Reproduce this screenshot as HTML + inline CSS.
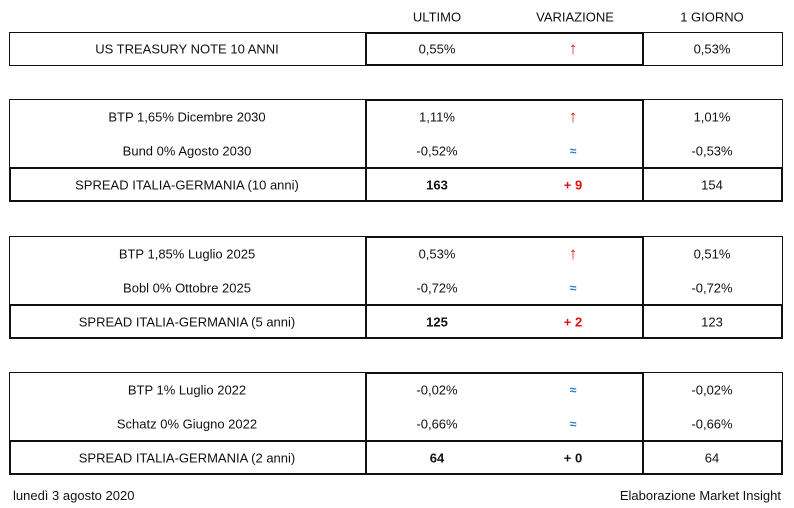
<!DOCTYPE html>
<html><head><meta charset="utf-8"><style>
body{margin:0;width:794px;height:508px;background:#fff;position:relative;font-family:"Liberation Sans",sans-serif;font-size:13px;color:#111;overflow:hidden}
.b{position:absolute;box-sizing:border-box;border:2px solid #111}
.t{position:absolute;transform:translate(-50%,-50%);white-space:nowrap}
.r{color:#e01010;font-weight:bold}
.a{color:#e01010;font-weight:bold;font-size:17px}
.bl{color:#2a7ac0;font-weight:bold;font-size:12px}
.bo{font-weight:bold}
</style></head><body>
<div class="t" style="left:437px;top:17px">ULTIMO</div>
<div class="t" style="left:575px;top:17px">VARIAZIONE</div>
<div class="t" style="left:712px;top:17px">1 GIORNO</div>

<div class="b" style="left:9px;top:32px;width:358px;height:34px;border-width:1px"></div>
<div class="b" style="left:365px;top:32px;width:279px;height:34px"></div>
<div class="b" style="left:642px;top:32px;width:141px;height:34px;border-width:1px"></div>
<div class="t" style="left:187px;top:49px">US TREASURY NOTE 10 ANNI</div>
<div class="t" style="left:437px;top:49px">0,55%</div>
<div class="t a" style="left:573px;top:49px">↑</div>
<div class="t" style="left:712px;top:49px">0,53%</div>

<div class="b" style="left:9px;top:99px;width:358px;height:70px;border-width:1px"></div>
<div class="b" style="left:365px;top:99px;width:279px;height:70px;border-width:2px 2px 0 2px"></div>
<div class="b" style="left:642px;top:99px;width:141px;height:70px;border-width:1px"></div>
<div class="b" style="left:9px;top:167px;width:774px;height:35px"></div>
<div class="b" style="left:365px;top:167px;width:279px;height:35px;border-width:0 2px"></div>
<div class="t" style="left:187px;top:117px">BTP 1,65% Dicembre 2030</div>
<div class="t" style="left:187px;top:151px">Bund 0% Agosto 2030</div>
<div class="t" style="left:187px;top:185px">SPREAD ITALIA-GERMANIA (10 anni)</div>
<div class="t" style="left:437px;top:117px">1,11%</div>
<div class="t" style="left:437px;top:151px">-0,52%</div>
<div class="t bo" style="left:437px;top:185px">163</div>
<div class="t a" style="left:573px;top:117px">↑</div>
<div class="t bl" style="left:573px;top:151px">≈</div>
<div class="t r" style="left:573px;top:185px">+ 9</div>
<div class="t" style="left:712px;top:117px">1,01%</div>
<div class="t" style="left:712px;top:151px">-0,53%</div>
<div class="t" style="left:712px;top:185px">154</div>

<div class="b" style="left:9px;top:236px;width:358px;height:70px;border-width:1px"></div>
<div class="b" style="left:365px;top:236px;width:279px;height:70px;border-width:2px 2px 0 2px"></div>
<div class="b" style="left:642px;top:236px;width:141px;height:70px;border-width:1px"></div>
<div class="b" style="left:9px;top:304px;width:774px;height:35px"></div>
<div class="b" style="left:365px;top:304px;width:279px;height:35px;border-width:0 2px"></div>
<div class="t" style="left:187px;top:254px">BTP 1,85% Luglio 2025</div>
<div class="t" style="left:187px;top:288px">Bobl 0% Ottobre 2025</div>
<div class="t" style="left:187px;top:322px">SPREAD ITALIA-GERMANIA (5 anni)</div>
<div class="t" style="left:437px;top:254px">0,53%</div>
<div class="t" style="left:437px;top:288px">-0,72%</div>
<div class="t bo" style="left:437px;top:322px">125</div>
<div class="t a" style="left:573px;top:254px">↑</div>
<div class="t bl" style="left:573px;top:288px">≈</div>
<div class="t r" style="left:573px;top:322px">+ 2</div>
<div class="t" style="left:712px;top:254px">0,51%</div>
<div class="t" style="left:712px;top:288px">-0,72%</div>
<div class="t" style="left:712px;top:322px">123</div>

<div class="b" style="left:9px;top:372px;width:358px;height:70px;border-width:1px"></div>
<div class="b" style="left:365px;top:372px;width:279px;height:70px;border-width:2px 2px 0 2px"></div>
<div class="b" style="left:642px;top:372px;width:141px;height:70px;border-width:1px"></div>
<div class="b" style="left:9px;top:440px;width:774px;height:35px"></div>
<div class="b" style="left:365px;top:440px;width:279px;height:35px;border-width:0 2px"></div>
<div class="t" style="left:187px;top:390px">BTP 1% Luglio 2022</div>
<div class="t" style="left:187px;top:424px">Schatz 0% Giugno 2022</div>
<div class="t" style="left:187px;top:458px">SPREAD ITALIA-GERMANIA (2 anni)</div>
<div class="t" style="left:437px;top:390px">-0,02%</div>
<div class="t" style="left:437px;top:424px">-0,66%</div>
<div class="t bo" style="left:437px;top:458px">64</div>
<div class="t bl" style="left:573px;top:390px">≈</div>
<div class="t bl" style="left:573px;top:424px">≈</div>
<div class="t bo" style="left:573px;top:458px">+ 0</div>
<div class="t" style="left:712px;top:390px">-0,02%</div>
<div class="t" style="left:712px;top:424px">-0,66%</div>
<div class="t" style="left:712px;top:458px">64</div>

<div style="position:absolute;left:13px;top:488px">lunedì 3 agosto 2020</div>
<div style="position:absolute;right:13px;top:488px">Elaborazione Market Insight</div>
</body></html>
